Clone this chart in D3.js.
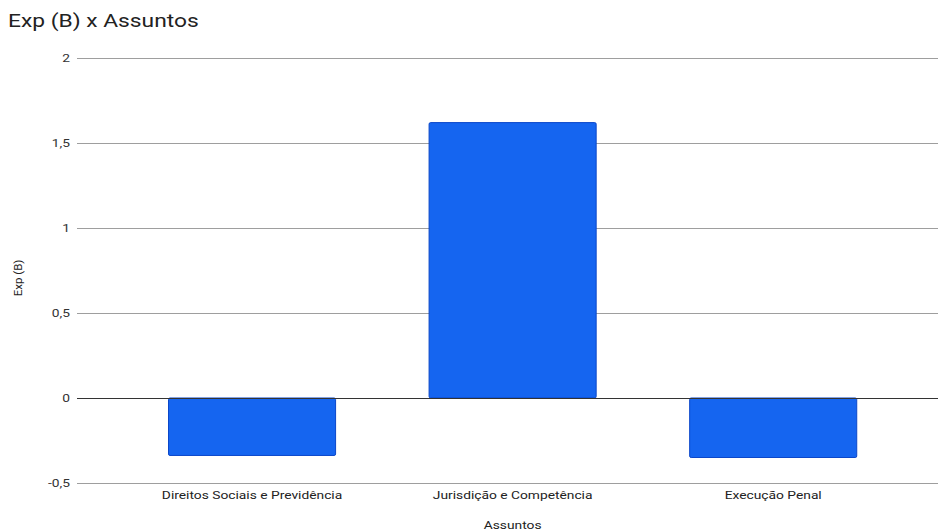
<!DOCTYPE html>
<html>
<head>
<meta charset="utf-8">
<script src="https://cdn.jsdelivr.net/npm/d3@7"></script>
<style>
  html, body { margin: 0; padding: 0; background: #fff; }
  svg { display: block; font-family: Roboto, "Noto Sans", sans-serif; }
</style>
</head>
<body>
<svg id="chart" width="938" height="531"></svg>
<script>
// Exp(B) per subject
const categories = ["Direitos Sociais e Previdência", "Jurisdição e Competência", "Execução Penal"];
const values = [-0.338, 1.62, -0.35];
const yTicks = [-0.5, 0, 0.5, 1, 1.5, 2];
const yTickLabels = ["-0,5", "0", "0,5", "1", "1,5", "2"];

const svg = d3.select("#chart");
const gridLeft = 77, gridRight = 938;
const stretch = 1.2; // text glyphs are drawn slightly widened

const y = d3.scaleLinear().domain([-0.5, 2]).range([483, 58]);
const x = d3.scaleBand().domain(categories).range([121.75, 903.5]).paddingInner(0.355).paddingOuter(0.1775);

const place = (px, py) => `translate(${px},${py}) scale(${stretch},1)`;

// title
svg.append("text")
  .attr("transform", place(8, 27))
  .attr("font-size", 19).attr("fill", "#222")
  .text("Exp (B) x Assuntos");

// gridlines
svg.append("g").selectAll("line").data(yTicks.filter(d => d !== 0)).join("line")
  .attr("x1", gridLeft).attr("x2", gridRight)
  .attr("y1", d => Math.round(y(d)) + 0.5).attr("y2", d => Math.round(y(d)) + 0.5)
  .attr("stroke", "#9e9e9e").attr("stroke-width", 1);

// y tick labels
svg.append("g").selectAll("text").data(yTicks).join("text")
  .attr("transform", d => place(70, y(d) + 4))
  .attr("text-anchor", "end").attr("font-size", 11.5)
  .attr("fill", "#333")
  .text((d, i) => yTickLabels[i]);

// bars
svg.append("g").selectAll("rect").data(values).join("rect")
  .attr("x", (d, i) => x(categories[i]) + 0.5)
  .attr("width", x.bandwidth() - 1)
  .attr("y", d => Math.min(y(d), y(0)))
  .attr("height", d => Math.abs(y(d) - y(0)))
  .attr("rx", 1.5)
  .attr("fill", "#1565f0")
  .attr("stroke", "#0b47c9").attr("stroke-width", 1);

// zero baseline
svg.append("line")
  .attr("x1", gridLeft).attr("x2", gridRight)
  .attr("y1", Math.round(y(0)) + 0.5).attr("y2", Math.round(y(0)) + 0.5)
  .attr("stroke", "#333").attr("stroke-width", 1);

// category labels
svg.append("g").selectAll("text").data(categories).join("text")
  .attr("transform", d => place(x(d) + x.bandwidth() / 2, 499))
  .attr("text-anchor", "middle").attr("font-size", 11.5)
  .attr("fill", "#222")
  .text(d => d);

// axis titles
svg.append("text")
  .attr("transform", place((121.75 + 903.5) / 2, 529))
  .attr("text-anchor", "middle").attr("font-size", 11.5)
  .attr("fill", "#222")
  .text("Assuntos");

svg.append("text")
  .attr("transform", "translate(22,278) rotate(-90)")
  .attr("text-anchor", "middle").attr("font-size", 11.5)
  .attr("fill", "#222")
  .text("Exp (B)");
</script>
</body>
</html>
